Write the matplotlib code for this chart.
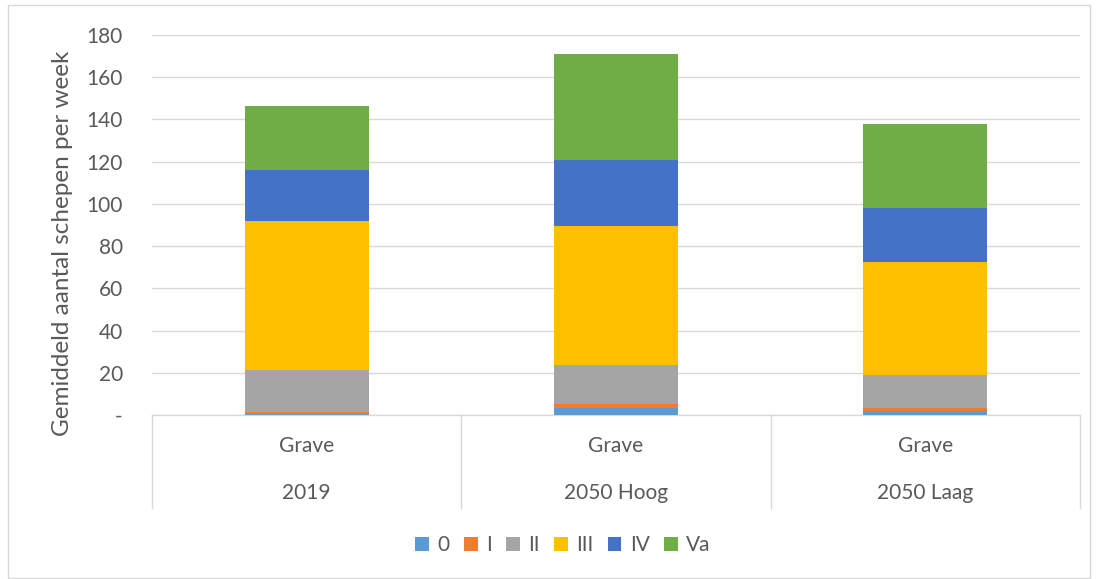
import numpy as np
import matplotlib.pyplot as plt
import matplotlib.transforms as mtransforms
from matplotlib.patches import Rectangle

plt.rcParams['font.family'] = ['Lato', 'DejaVu Sans']

locatie = ['Grave', 'Grave', 'Grave']
scenario = ['2019', '2050 Hoog', '2050 Laag']
klassen = ['0', 'I', 'II', 'III', 'IV', 'Va']
waarden = {
    '0':   [0.3, 3.5, 2.0],
    'I':   [1.2, 1.8, 1.5],
    'II':  [19.8, 18.4, 15.5],
    'III': [70.6, 65.8, 53.5],
    'IV':  [24.1, 31.3, 25.5],
    'Va':  [30.4, 50.2, 40.0],
}
kleuren = ['#5B9BD5', '#ED7D31', '#A5A5A5', '#FFC000', '#4472C4', '#70AD47']
yticks = [0, 20, 40, 60, 80, 100, 120, 140, 160, 180]

tekst = '#595959'
lijn = '#D9D9D9'

fig = plt.figure(figsize=(11, 5.79), dpi=100)
fig.patches.append(Rectangle((8 / 1100, 1 - 578 / 579), 1082 / 1100, 573 / 579,
                             transform=fig.transFigure, fill=False,
                             edgecolor=lijn, linewidth=1))
ax = fig.add_axes([152 / 1100, 1 - 415 / 579, 928 / 1100, 380 / 579])

x = np.arange(len(scenario))
bodem = np.zeros(len(scenario))
for k, c in zip(klassen, kleuren):
    v = np.array(waarden[k])
    ax.bar(x, v, 0.4, bottom=bodem, color=c, label=k, zorder=3)
    bodem += v

ax.set_xlim(-0.5, 2.5)
ax.set_ylim(0, 180)
ax.set_yticks(yticks)
ax.set_yticklabels(['-'] + [str(t) for t in yticks[1:]])
ax.tick_params(axis='y', length=0, pad=21, labelsize=15, labelcolor=tekst)
ax.set_xticks([])
ax.grid(axis='y', color=lijn, linewidth=1, zorder=0)
for s in ['top', 'right', 'left']:
    ax.spines[s].set_visible(False)
ax.spines['bottom'].set_color(lijn)
ax.spines['bottom'].set_linewidth(1)
ax.set_ylabel('Gemiddeld aantal schepen per week', fontsize=17.5, color=tekst)
ax.yaxis.set_label_coords(-(152 - 73) / 928, (415 - 243) / 380)

# multi-level category axis
trans = mtransforms.blended_transform_factory(ax.transData, ax.transAxes)
onder = -(508 - 415) / 380
for g in np.arange(-0.5, len(scenario), 1.0):
    ax.plot([g, g], [0, onder], transform=trans, color=lijn, linewidth=1, clip_on=False)
for i in range(len(scenario)):
    ax.text(x[i], -(446 - 415) / 380, locatie[i], transform=trans, ha='center', va='center',
            fontsize=15, color=tekst)
    ax.text(x[i], -(493 - 415) / 380, scenario[i], transform=trans, ha='center', va='center',
            fontsize=15, color=tekst)

ax.legend(loc='center', bbox_to_anchor=((563 - 152) / 928, -(545 - 415) / 380), ncol=6,
          frameon=False, fontsize=15, labelcolor=tekst, handlelength=0.65, handleheight=0.65,
          handletextpad=0.4, columnspacing=0.7)

fig.savefig('out.png', dpi=100)
